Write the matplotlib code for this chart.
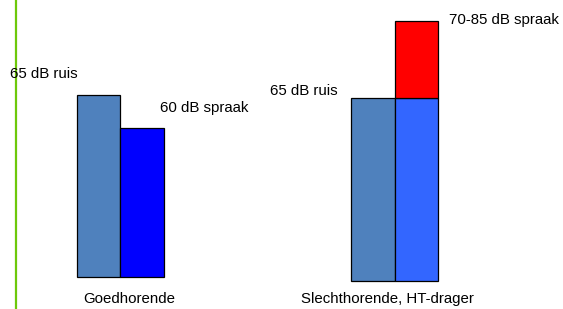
import matplotlib
matplotlib.use("Agg")
import matplotlib.pyplot as plt

# ------------------------------------------------------------
# Data (bar heights, arbitrary units)
# ------------------------------------------------------------
groups = ["Goedhorende", "Slechthorende, HT-drager"]
noise = [182, 183]            # 65 dB ruis
speech = [149, 183]           # spraak (lower part)
speech_extra = [0, 77]        # extra speech level for HT-drager
noise_labels = ["65 dB ruis", "65 dB ruis"]
speech_labels = ["60 dB spraak", "70-85 dB spraak"]

# ------------------------------------------------------------
# Layout
# ------------------------------------------------------------
plt.rcParams["font.family"] = ["Liberation Sans", "DejaVu Sans"]
fig = plt.figure(figsize=(5.63, 3.09), dpi=100)
ax = fig.add_axes([0, 0, 1, 1])
ax.set_xlim(0, 563)
ax.set_ylim(0, 309)
ax.axis("off")

centers = [120, 394.5]
baselines = [32, 28]
label_x = [129.5, 387]
width = 43.5
speech_colors = ["#0000FF", "#3366FF"]
fs = 10.8

# green vertical line on the left
ax.axvline(16, color="#6DC80A", lw=1.6)

for i, g in enumerate(groups):
    c, b = centers[i], baselines[i]
    ax.bar(c - width / 2, noise[i], width, bottom=b, color="#4F81BD",
           edgecolor="black", linewidth=0.9)
    ax.bar(c + width / 2, speech[i], width, bottom=b, color=speech_colors[i],
           edgecolor="black", linewidth=0.9)
    if speech_extra[i]:
        ax.bar(c + width / 2, speech_extra[i], width, bottom=b + speech[i],
               color="#FF0000", edgecolor="black", linewidth=0.9)
    ax.text(label_x[i], 10, g, ha="center", va="center", fontsize=fs)

# annotations
ax.text(10, 309 - 74, noise_labels[0], ha="left", va="center", fontsize=fs)
ax.text(160, 309 - 108, speech_labels[0], ha="left", va="center", fontsize=fs)
ax.text(270, 309 - 91, noise_labels[1], ha="left", va="center", fontsize=fs)
ax.text(449, 309 - 20, speech_labels[1], ha="left", va="center", fontsize=fs)

fig.savefig("out.png", dpi=100)
